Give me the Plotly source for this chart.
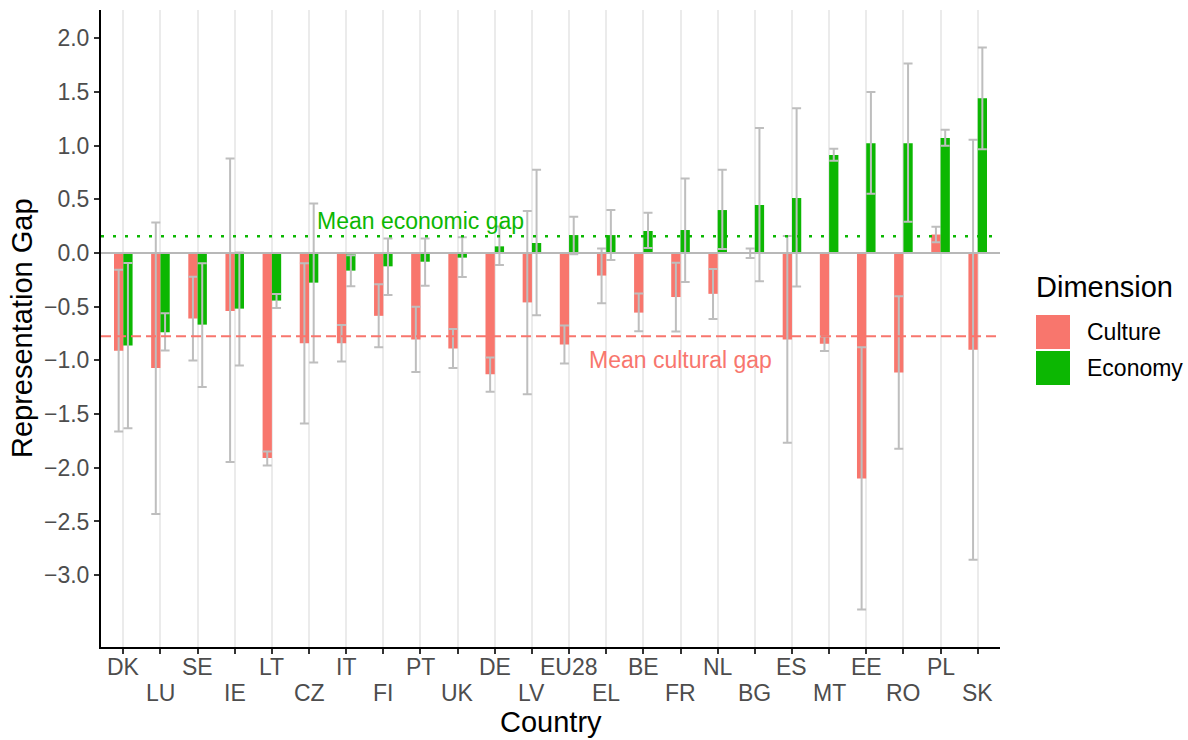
import plotly.graph_objects as go

countries = ["DK", "LU", "SE", "IE", "LT", "CZ", "IT", "FI", "PT", "UK", "DE", "LV",
             "EU28", "EL", "BE", "FR", "NL", "BG", "ES", "MT", "EE", "RO", "PL", "SK"]

culture = [-0.91, -1.07, -0.61, -0.54, -1.91, -0.84, -0.84, -0.585, -0.805, -0.89, -1.13, -0.46,
           -0.853, -0.21, -0.555, -0.41, -0.38, -0.005, -0.805, -0.845, -2.10, -1.113, 0.172, -0.90]
culture_lo = [-1.662, -2.43, -1.0, -1.947, -1.978, -1.588, -1.01, -0.878, -1.107, -1.07, -1.293, -1.315,
              -1.03, -0.468, -0.729, -0.732, -0.614, -0.047, -1.767, -0.912, -3.32, -1.823, 0.10, -2.856]
culture_hi = [-0.155, 0.285, -0.22, 0.88, -1.848, -0.096, -0.67, -0.291, -0.50, -0.707, -0.974, 0.391,
              -0.676, 0.043, -0.378, -0.09, -0.149, 0.043, 0.158, -0.778, -0.877, -0.403, 0.245, 1.054]

economy = [-0.862, -0.738, -0.667, -0.518, -0.443, -0.276, -0.164, -0.124, -0.081, -0.043, 0.062, 0.093,
           0.167, 0.167, 0.205, 0.214, 0.40, 0.447, 0.512, 0.912, 1.023, 1.023, 1.07, 1.442]
economy_lo = [-1.631, -0.909, -1.247, -1.048, -0.512, -1.02, -0.31, -0.391, -0.304, -0.223, -0.112, -0.58,
              -0.012, -0.065, 0.047, -0.27, 0.037, -0.264, -0.313, 0.859, 0.552, 0.291, 0.998, 0.967]
economy_hi = [-0.093, -0.561, -0.096, 0.005, -0.381, 0.462, -0.02, 0.136, 0.136, 0.146, 0.248, 0.775,
              0.338, 0.40, 0.375, 0.695, 0.775, 1.163, 1.349, 0.97, 1.50, 1.765, 1.147, 1.913]

y_ticks = [2.0, 1.5, 1.0, 0.5, 0.0, -0.5, -1.0, -1.5, -2.0, -2.5, -3.0]

mean_economic_gap = 0.155
mean_cultural_gap = -0.775

COL_CULT = "#F8766D"
COL_ECON = "#0CB702"
ERR_COL = "#BEBEBE"
FONT = "Liberation Sans, Arial, sans-serif"


def err(vals, lo, hi):
    return dict(type="data", symmetric=False,
                array=[h - v for v, h in zip(vals, hi)],
                arrayminus=[v - l for v, l in zip(vals, lo)],
                color=ERR_COL, thickness=2, width=4.5)


fig = go.Figure()
fig.add_trace(go.Bar(x=countries, y=culture, name="Culture", marker_color=COL_CULT,
                     marker_line_width=0, error_y=err(culture, culture_lo, culture_hi)))
fig.add_trace(go.Bar(x=countries, y=economy, name="Economy", marker_color=COL_ECON,
                     marker_line_width=0, error_y=err(economy, economy_lo, economy_hi)))

shapes = [
    dict(type="line", xref="paper", x0=0, x1=1, yref="y", y0=0, y1=0,
         line=dict(color="#B8B8B8", width=2), layer="above"),
    dict(type="line", xref="paper", x0=0, x1=1, yref="y", y0=mean_economic_gap, y1=mean_economic_gap,
         line=dict(color=COL_ECON, width=2.5, dash="3px,9px"), layer="above"),
    dict(type="line", xref="paper", x0=0, x1=1, yref="y", y0=mean_cultural_gap, y1=mean_cultural_gap,
         line=dict(color=COL_CULT, width=2, dash="10px,5px"), layer="above"),
]

# manual legend (paper coords: plot area x 101..1000, y 10..647)
W, H = 1188, 740
L, R, T, B = 101, 188, 10, 93
PW, PH = W - L - R, H - T - B


def px(x):
    return (x - L) / PW


def py(y):
    return (H - B - y) / PH


shapes += [
    dict(type="rect", xref="paper", yref="paper", x0=px(1036), x1=px(1070), y0=py(349), y1=py(315),
         fillcolor=COL_CULT, line_width=0),
    dict(type="rect", xref="paper", yref="paper", x0=px(1036), x1=px(1070), y0=py(385), y1=py(351),
         fillcolor=COL_ECON, line_width=0),
]

annotations = [
    dict(x="PT", y=0.30, xref="x", yref="y", text="Mean economic gap", showarrow=False,
         font=dict(family=FONT, size=23, color=COL_ECON)),
    dict(x="FR", y=-1.0, xref="x", yref="y", text="Mean cultural gap", showarrow=False,
         font=dict(family=FONT, size=23, color=COL_CULT)),
    dict(x=px(1034), y=py(287), xref="paper", yref="paper", xanchor="left", yanchor="middle",
         text="Dimension", showarrow=False, font=dict(family=FONT, size=29, color="black")),
    dict(x=px(1085), y=py(332), xref="paper", yref="paper", xanchor="left", yanchor="middle",
         text="Culture", showarrow=False, font=dict(family=FONT, size=23, color="black")),
    dict(x=px(1085), y=py(368), xref="paper", yref="paper", xanchor="left", yanchor="middle",
         text="Economy", showarrow=False, font=dict(family=FONT, size=23, color="black")),
    # axis titles
    dict(x=0.5, y=0, xref="paper", yref="paper", yanchor="middle", yshift=-75,
         text="Country", showarrow=False, font=dict(family=FONT, size=29, color="black")),
    dict(x=px(22), y=py(328), xref="paper", yref="paper", xanchor="center", yanchor="middle",
         text="Representation Gap", textangle=-90, showarrow=False,
         font=dict(family=FONT, size=29, color="black")),
]

# staggered x tick labels (two rows, as in the reference)
for i, c in enumerate(countries):
    annotations.append(dict(x=c, xref="x", y=0, yref="paper", yanchor="middle",
                            yshift=-20 if i % 2 == 0 else -46, text=c, showarrow=False,
                            font=dict(family=FONT, size=23, color="#4D4D4D")))

fig.update_layout(
    width=W, height=H,
    margin=dict(l=L, r=R, t=T, b=B, pad=0, autoexpand=False),
    paper_bgcolor="white", plot_bgcolor="white",
    barmode="group", bargap=0.5, bargroupgap=0,
    showlegend=False,
    font=dict(family=FONT),
    shapes=shapes, annotations=annotations,
    xaxis=dict(
        type="category", categoryorder="array", categoryarray=countries,
        tickmode="array", tickvals=countries, showticklabels=False,
        range=[-0.6, len(countries) - 0.4], automargin=False,
        showgrid=True, gridcolor="#EBEBEB", gridwidth=2,
        showline=True, linecolor="black", linewidth=2,
        ticks="outside", ticklen=5, tickwidth=2, tickcolor="#333333",
        zeroline=False,
    ),
    yaxis=dict(
        range=[-3.669, 2.263], automargin=False,
        tickmode="array", tickvals=y_ticks,
        tickformat=".1f",
        showgrid=False, zeroline=False,
        showline=True, linecolor="black", linewidth=2,
        ticks="outside", ticklen=5, tickwidth=2, tickcolor="#333333",
        tickfont=dict(family=FONT, size=23, color="#4D4D4D"),
    ),
)

fig.write_html("out.html", config={"displayModeBar": False},
               post_script="document.body.style.margin='0px';")
